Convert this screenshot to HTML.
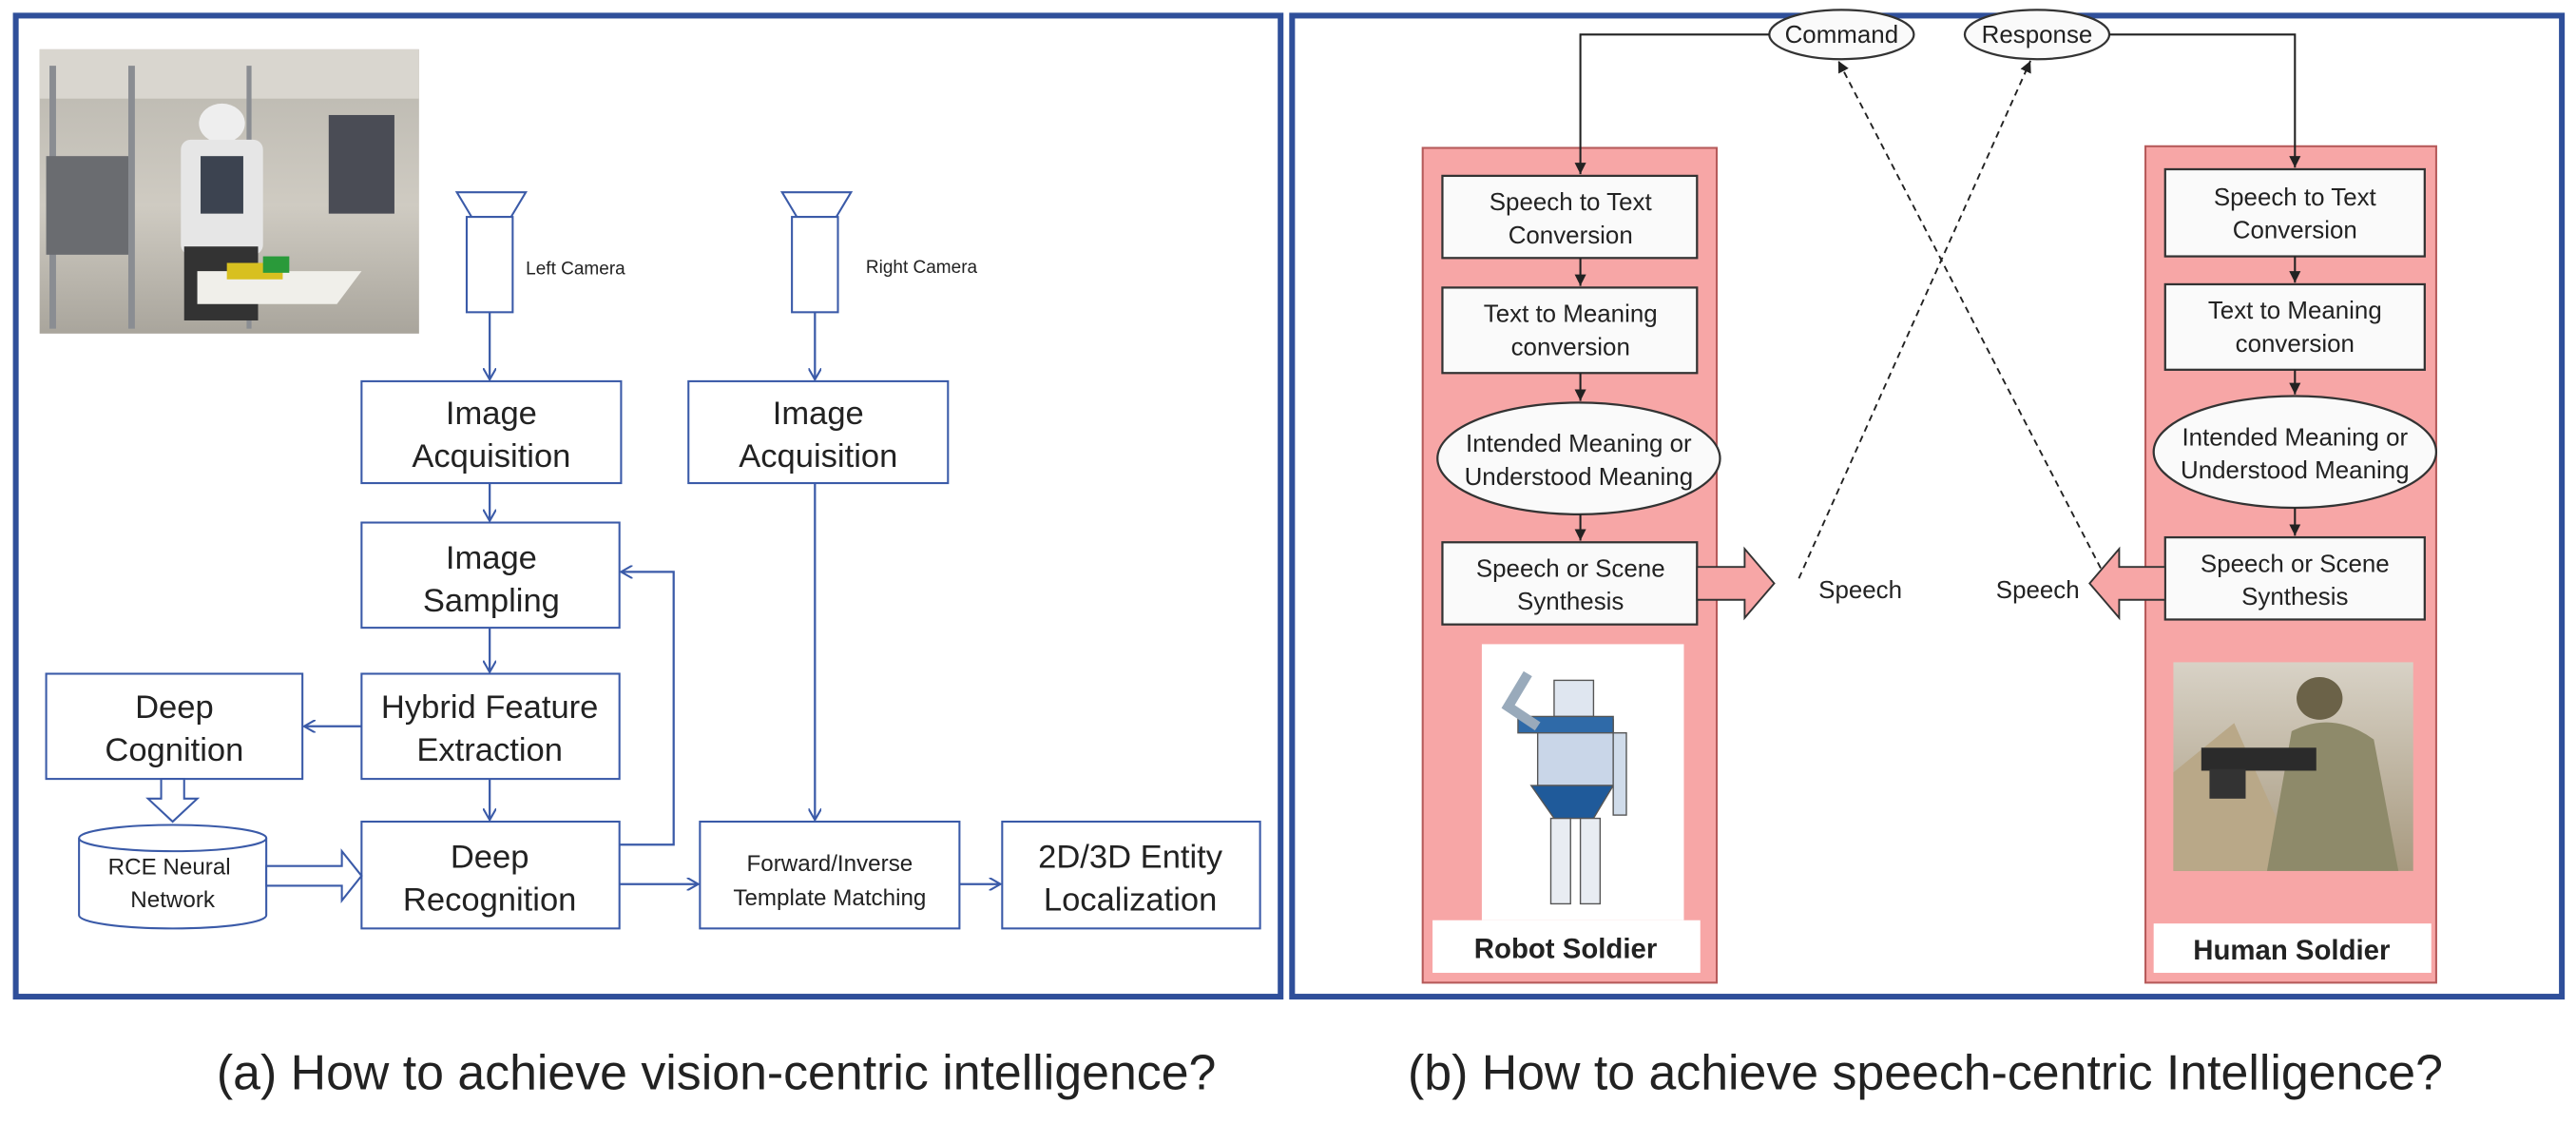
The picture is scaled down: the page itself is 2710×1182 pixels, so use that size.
<!DOCTYPE html>
<html><head><meta charset="utf-8"><style>
html,body{margin:0;padding:0;background:#fff;}
svg{display:block;}
text{font-family:"Liberation Sans",Arial,sans-serif;fill:#222;}
</style></head><body>
<svg width="2710" height="1182" viewBox="0 0 1568 684" xmlns="http://www.w3.org/2000/svg">
<defs>
<marker id="ab" markerWidth="8" markerHeight="8" refX="7" refY="4" orient="auto" markerUnits="userSpaceOnUse"><path d="M0,0 L7,4 L0,8" fill="none" stroke="#3a5aa8" stroke-width="1.2"/></marker>
<marker id="ak" markerWidth="8" markerHeight="8" refX="7" refY="4" orient="auto" markerUnits="userSpaceOnUse"><path d="M0,0.5 L7,4 L0,7.5 Z" fill="#222"/></marker>
<linearGradient id="room" x1="0" y1="0" x2="0" y2="1"><stop offset="0" stop-color="#b9b6ae"/><stop offset="0.55" stop-color="#cfcbc2"/><stop offset="1" stop-color="#a9a59c"/></linearGradient>
<linearGradient id="desert" x1="0" y1="0" x2="0" y2="1"><stop offset="0" stop-color="#d8d2c6"/><stop offset="1" stop-color="#a89a80"/></linearGradient>
</defs>

<rect x="9.5" y="9.5" width="770" height="597" fill="none" stroke="#2f4f9a" stroke-width="3.5"/>
<rect x="786.5" y="9.5" width="773" height="597" fill="none" stroke="#2f4f9a" stroke-width="3.5"/>

<!-- Photo -->
<rect x="24" y="30" width="231" height="173" fill="url(#room)"/>
<rect x="24" y="30" width="231" height="30" fill="#d9d6cf"/>
<rect x="30" y="40" width="4" height="160" fill="#8a8d92"/>
<rect x="78" y="40" width="4" height="160" fill="#8a8d92"/>
<rect x="150" y="40" width="3" height="160" fill="#8a8d92"/>
<rect x="28" y="95" width="50" height="60" fill="#6a6c70"/>
<rect x="200" y="70" width="40" height="60" fill="#4a4c55"/>
<ellipse cx="135" cy="75" rx="14" ry="12" fill="#eee"/>
<rect x="110" y="85" width="50" height="70" fill="#e6e6e6" rx="6"/>
<rect x="122" y="95" width="26" height="35" fill="#3c4350"/>
<rect x="112" y="150" width="45" height="45" fill="#333"/>
<polygon points="120,165 220,165 205,185 120,185" fill="#f0efea"/>
<rect x="138" y="160" width="34" height="10" fill="#d8c020"/>
<rect x="160" y="156" width="16" height="10" fill="#2a9a3a"/>

<!-- Cameras -->
<g fill="#fff" stroke="#3a5aa8" stroke-width="1.2">
<polygon points="278,117 320,117 311,132 287,132"/>
<rect x="284" y="132" width="28" height="58"/>
<polygon points="476,117 518,117 509,132 485,132"/>
<rect x="482" y="132" width="28" height="58"/>
</g>
<text x="320" y="167" font-size="11">Left Camera</text>
<text x="527" y="166" font-size="11">Right Camera</text>

<g fill="#fff" stroke="#3a5aa8" stroke-width="1.2">
<rect x="220" y="232" width="158" height="62"/>
<rect x="419" y="232" width="158" height="62"/>
<rect x="220" y="318" width="157" height="64"/>
<rect x="220" y="410" width="157" height="64"/>
<rect x="28" y="410" width="156" height="64"/>
<rect x="220" y="500" width="157" height="65"/>
<rect x="426" y="500" width="158" height="65"/>
<rect x="610" y="500" width="157" height="65"/>
</g>
<g fill="#fff" stroke="#3a5aa8" stroke-width="1.2">
<path d="M48,510 L48,557 A57,8 0 0 0 162,557 L162,510"/>
<ellipse cx="105" cy="510" rx="57" ry="8"/>
</g>
<g font-size="20" text-anchor="middle">
<text x="299" y="258">Image</text><text x="299" y="284">Acquisition</text>
<text x="498" y="258">Image</text><text x="498" y="284">Acquisition</text>
<text x="299" y="346">Image</text><text x="299" y="372">Sampling</text>
<text x="298" y="437">Hybrid Feature</text><text x="298" y="463">Extraction</text>
<text x="106" y="437">Deep</text><text x="106" y="463">Cognition</text>
<text x="298" y="528">Deep</text><text x="298" y="554">Recognition</text>
<text x="688" y="528">2D/3D Entity</text><text x="688" y="554">Localization</text>
</g>
<g font-size="14" text-anchor="middle">
<text x="103" y="532">RCE Neural</text><text x="105" y="552">Network</text>
<text x="505" y="530">Forward/Inverse</text><text x="505" y="551">Template Matching</text>
</g>

<g stroke="#3a5aa8" stroke-width="1.3" fill="none" marker-end="url(#ab)">
<line x1="298" y1="190" x2="298" y2="231"/>
<line x1="496" y1="190" x2="496" y2="231"/>
<line x1="298" y1="294" x2="298" y2="317"/>
<line x1="298" y1="382" x2="298" y2="409"/>
<line x1="298" y1="474" x2="298" y2="499"/>
<line x1="220" y1="442" x2="185" y2="442"/>
<line x1="496" y1="294" x2="496" y2="499"/>
<line x1="377" y1="538" x2="425" y2="538"/>
<line x1="584" y1="538" x2="609" y2="538"/>
<polyline points="377,514 410,514 410,348 378,348"/>
</g>
<g fill="#fff" stroke="#3a5aa8" stroke-width="1.2">
<polygon points="98,474 112,474 112,486 120,486 105,500 90,486 98,486"/>
<polygon points="162,527 208,527 208,518 220,533 208,548 208,539 162,539"/>
</g>

<text x="436" y="663" font-size="30" text-anchor="middle">(a) How to achieve vision-centric intelligence?</text>
<text x="1172" y="663" font-size="30" text-anchor="middle">(b) How to achieve speech-centric Intelligence?</text>

<g fill="#f7a6a6" stroke="#b65a5a" stroke-width="1.2">
<rect x="866" y="90" width="179" height="508"/>
<rect x="1306" y="89" width="177" height="509"/>
</g>
<g fill="#fafafa" stroke="#333" stroke-width="1.3">
<rect x="878" y="107" width="155" height="50"/>
<rect x="878" y="175" width="155" height="52"/>
<ellipse cx="961" cy="279" rx="86" ry="34"/>
<rect x="878" y="330" width="155" height="50"/>
<rect x="1318" y="103" width="158" height="53"/>
<rect x="1318" y="173" width="158" height="52"/>
<ellipse cx="1397" cy="275" rx="86" ry="34"/>
<rect x="1318" y="327" width="158" height="50"/>
<ellipse cx="1121" cy="21" rx="44" ry="15"/>
<ellipse cx="1240" cy="21" rx="44" ry="15"/>
</g>
<g font-size="15" text-anchor="middle">
<text x="956" y="128">Speech to Text</text><text x="956" y="148">Conversion</text>
<text x="956" y="196">Text to Meaning</text><text x="956" y="216">conversion</text>
<text x="961" y="275">Intended Meaning or</text><text x="961" y="295">Understood Meaning</text>
<text x="956" y="351">Speech or Scene</text><text x="956" y="371">Synthesis</text>
<text x="1397" y="125">Speech to Text</text><text x="1397" y="145">Conversion</text>
<text x="1397" y="194">Text to Meaning</text><text x="1397" y="214">conversion</text>
<text x="1397" y="271">Intended Meaning or</text><text x="1397" y="291">Understood Meaning</text>
<text x="1397" y="348">Speech or Scene</text><text x="1397" y="368">Synthesis</text>
<text x="1121" y="26">Command</text>
<text x="1240" y="26">Response</text>
</g>
<g font-size="15"><text x="1107" y="364">Speech</text><text x="1215" y="364">Speech</text></g>

<g stroke="#222" stroke-width="1.2" fill="none" marker-end="url(#ak)">
<polyline points="1077,21 962,21 962,106"/>
<polyline points="1284,21 1397,21 1397,102"/>
<line x1="962" y1="157" x2="962" y2="174"/>
<line x1="962" y1="227" x2="962" y2="244"/>
<line x1="962" y1="313" x2="962" y2="329"/>
<line x1="1397" y1="156" x2="1397" y2="172"/>
<line x1="1397" y1="225" x2="1397" y2="240"/>
<line x1="1397" y1="309" x2="1397" y2="326"/>
</g>
<g stroke="#222" stroke-width="1.1" fill="none" stroke-dasharray="4,3" marker-end="url(#ak)">
<line x1="1095" y1="352" x2="1236" y2="37"/>
<line x1="1282" y1="352" x2="1119" y2="37"/>
</g>
<g fill="#f7a6a6" stroke="#333" stroke-width="1.1">
<polygon points="1033,345 1062,345 1062,334 1080,355 1062,376 1062,365 1033,365"/>
<polygon points="1318,345 1290,345 1290,334 1272,355 1290,376 1290,365 1318,365"/>
</g>

<rect x="902" y="392" width="123" height="168" fill="#fff"/>
<g stroke="#555" stroke-width="0.8">
<rect x="946" y="414" width="24" height="22" fill="#dfe6f0"/>
<rect x="936" y="438" width="46" height="40" fill="#c9d6e8"/>
<rect x="924" y="436" width="58" height="10" fill="#2f6aa8"/>
<polygon points="932,478 982,478 970,498 946,498" fill="#1f5a9a"/>
<rect x="944" y="498" width="12" height="52" fill="#e8ecf2"/>
<rect x="962" y="498" width="12" height="52" fill="#e8ecf2"/>
<polyline points="936,442 918,430 930,410" fill="none" stroke="#9ab" stroke-width="6"/>
<rect x="982" y="446" width="8" height="50" fill="#d0dcea"/>
</g>
<rect x="872" y="560" width="163" height="32" fill="#fff"/>
<text x="953" y="583" font-size="17" font-weight="bold" text-anchor="middle">Robot Soldier</text>

<rect x="1323" y="403" width="146" height="127" fill="url(#desert)"/>
<polygon points="1323,530 1323,470 1360,440 1400,530" fill="#b9a888"/>
<ellipse cx="1412" cy="425" rx="14" ry="13" fill="#6b6248"/>
<path d="M1395,445 Q1420,432 1445,450 L1460,530 L1380,530 Z" fill="#8e8a6a"/>
<rect x="1340" y="455" width="70" height="14" fill="#2b2b2b"/>
<rect x="1345" y="468" width="22" height="18" fill="#333"/>
<rect x="1311" y="562" width="169" height="30" fill="#fff"/>
<text x="1395" y="584" font-size="17" font-weight="bold" text-anchor="middle">Human Soldier</text>
</svg>
</body></html>
